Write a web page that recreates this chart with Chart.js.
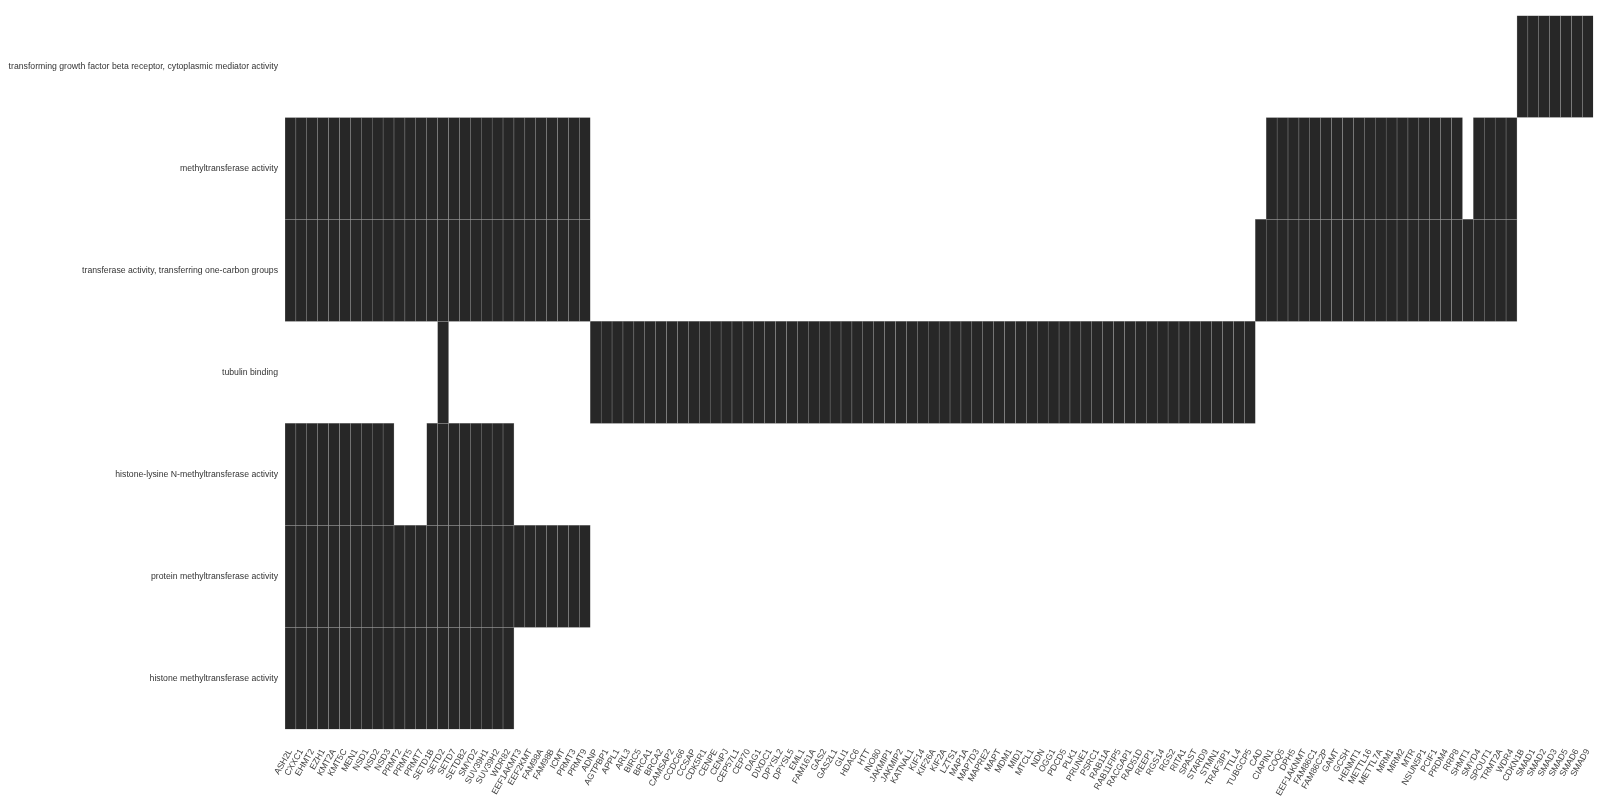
<!DOCTYPE html>
<html><head><meta charset="utf-8">
<script src="https://cdn.jsdelivr.net/npm/chart.js@4/dist/chart.umd.min.js"></script>
<style>html,body{margin:0;padding:0;background:#fff;}#wrap{width:1600px;height:800px;}</style>
</head><body><div id="wrap"><canvas id="c" width="1600" height="800"></canvas></div>
<script>
const genes = ["ASH2L","CXXC1","EHMT2","EZH1","KMT2A","KMT5C","MEN1","NSD1","NSD2","NSD3","PRMT2","PRMT5","PRMT7","SETD1B","SETD2","SETD7","SETDB2","SMYD2","SUV39H1","SUV39H2","WDR82","EEF1AKMT3","EEF2KMT","FAM98A","FAM98B","ICMT","PRMT3","PRMT9","ADNP","AGTPBP1","APPL1","ARL3","BIRC5","BRCA1","BRCA2","CAMSAP2","CCDC66","CCSAP","CDK5R1","CENPE","CENPJ","CEP57L1","CEP70","DAG1","DIXDC1","DPYSL2","DPYSL5","EML1","FAM161A","GAS2","GAS2L1","GLI1","HDAC6","HTT","INO80","JAKMIP1","JAKMIP2","KATNAL1","KIF14","KIF26A","KIF2A","LZTS1","MAP1A","MAP7D3","MAPRE2","MAPT","MDM1","MID1","MTCL1","NDN","OGG1","PDCD5","PLK1","PRUNE1","PSRC1","RAB11A","RAB11FIP5","RACGAP1","RAD51D","REEP1","RGS14","RGS2","RITA1","SPAST","STARD9","STMN1","TRAF3IP1","TTLL4","TUBGCP5","CAD","CIAPIN1","COQ5","DPH5","EEF1AKNMT","FAM86C1","FAM86C2P","GAMT","GCSH","HENMT1","METTL16","METTL7A","MRM1","MRM2","MTR","NSUN5P1","PCIF1","PRDM4","RRP8","SHMT1","SMYD4","SPOUT1","TRMT2A","WDR4","CDKN1B","SMAD1","SMAD2","SMAD3","SMAD5","SMAD6","SMAD9"];

const terms = [
  "transforming growth factor beta receptor, cytoplasmic mediator activity",
  "methyltransferase activity",
  "transferase activity, transferring one-carbon groups",
  "tubulin binding",
  "histone-lysine N-methyltransferase activity",
  "protein methyltransferase activity",
  "histone methyltransferase activity"
];

const histoneMT = ["ASH2L","CXXC1","EHMT2","EZH1","KMT2A","KMT5C","MEN1","NSD1","NSD2","NSD3","PRMT2","PRMT5","PRMT7","SETD1B","SETD2","SETD7","SETDB2","SMYD2","SUV39H1","SUV39H2","WDR82"];
const proteinExtra = ["EEF1AKMT3","EEF2KMT","FAM98A","FAM98B","ICMT","PRMT3","PRMT9"];
const otherMT = ["CIAPIN1","COQ5","DPH5","EEF1AKNMT","FAM86C1","FAM86C2P","GAMT","GCSH","HENMT1","METTL16","METTL7A","MRM1","MRM2","MTR","NSUN5P1","PCIF1","PRDM4","RRP8","SMYD4","SPOUT1","TRMT2A","WDR4"];

const tgfbMediator = ["CDKN1B","SMAD1","SMAD2","SMAD3","SMAD5","SMAD6","SMAD9"];
const methyltransferase = histoneMT.concat(proteinExtra, otherMT);
const oneCarbon = histoneMT.concat(proteinExtra, ["CAD"], otherMT, ["SHMT1"]);
const tubulinBinding = ["SETD2","ADNP","AGTPBP1","APPL1","ARL3","BIRC5","BRCA1","BRCA2","CAMSAP2","CCDC66","CCSAP","CDK5R1","CENPE","CENPJ","CEP57L1","CEP70","DAG1","DIXDC1","DPYSL2","DPYSL5","EML1","FAM161A","GAS2","GAS2L1","GLI1","HDAC6","HTT","INO80","JAKMIP1","JAKMIP2","KATNAL1","KIF14","KIF26A","KIF2A","LZTS1","MAP1A","MAP7D3","MAPRE2","MAPT","MDM1","MID1","MTCL1","NDN","OGG1","PDCD5","PLK1","PRUNE1","PSRC1","RAB11A","RAB11FIP5","RACGAP1","RAD51D","REEP1","RGS14","RGS2","RITA1","SPAST","STARD9","STMN1","TRAF3IP1","TTLL4","TUBGCP5"];
const histoneLysineNMT = ["ASH2L","CXXC1","EHMT2","EZH1","KMT2A","KMT5C","MEN1","NSD1","NSD2","NSD3","SETD1B","SETD2","SETD7","SETDB2","SMYD2","SUV39H1","SUV39H2","WDR82"];
const proteinMT = histoneMT.concat(proteinExtra);
const histoneMethyltransferase = histoneMT;

const memberships = [tgfbMediator, methyltransferase, oneCarbon, tubulinBinding, histoneLysineNMT, proteinMT, histoneMethyltransferase];

const datasets = memberships.map((members, i) => ({
  label: terms[i],
  data: genes.map(g => members.includes(g) ? [i, i + 1] : null),
  backgroundColor: '#272727',
  borderColor: '#a0a0a0',
  borderWidth: 0.5,
  borderSkipped: false,
  grouped: false,
  barPercentage: 1,
  categoryPercentage: 1
}));

new Chart(document.getElementById('c'), {
  type: 'bar',
  data: { labels: genes, datasets },
  options: {
    responsive: false,
    animation: false,
    layout: { padding: { top: 15.5, right: 6.7, left: 0, bottom: 0 } },
    plugins: { legend: { display: false }, tooltip: { enabled: false } },
    scales: {
      x: {
        type: 'category',
        grid: { display: false },
        border: { display: false },
        ticks: {
          autoSkip: false, minRotation: 60, maxRotation: 60,
          color: '#444', padding: 10,
          font: { family: '"Liberation Sans", Arial, sans-serif', size: 8.7 }
        },
        afterFit: s => { s.height = 70.7; s.paddingLeft = 0; s.paddingRight = 0; }
      },
      y: {
        type: 'linear', min: 0, max: 7, reverse: true,
        grid: { display: false, drawTicks: false },
        border: { display: false },
        afterBuildTicks: s => { s.ticks = terms.map((t, i) => ({ value: i + 0.5 })); },
        ticks: {
          autoSkip: false, color: '#333', padding: 7,
          font: { family: '"Liberation Sans", Arial, sans-serif', size: 8.7 },
          callback: v => terms[Math.floor(v)]
        },
        afterFit: s => { s.width = 285; s.paddingTop = 0; s.paddingBottom = 0; }
      }
    }
  }
});
</script></body></html>
